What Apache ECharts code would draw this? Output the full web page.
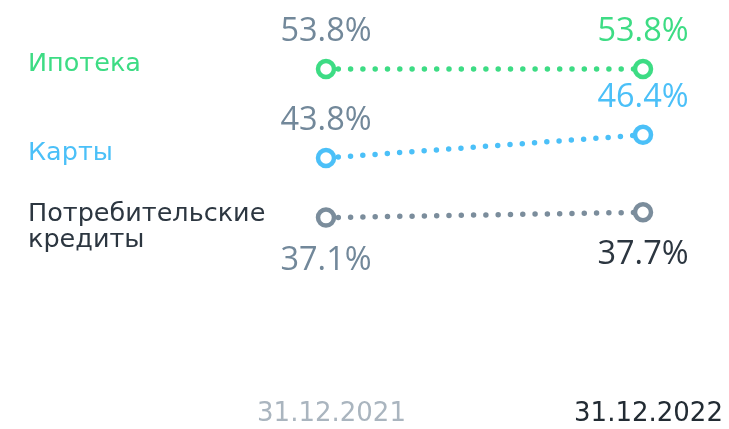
<!DOCTYPE html>
<html>
<head>
<meta charset="utf-8">
<script src="https://cdn.jsdelivr.net/npm/echarts@6/dist/echarts.min.js"></script>
<style>
    html, body { margin: 0; padding: 0; background: #ffffff; }
    #chart { width: 729px; height: 429px; }
</style>
</head>
<body>
<div id="chart"></div>
<script>
// данные
const dates = ['31.12.2021', '31.12.2022'];
const seriesNames = ['Ипотека', 'Карты', 'Потребительские\nкредиты'];
const mortgage = [53.8, 53.8];
const cards = [43.8, 46.4];
const consumer = [37.1, 37.7];

const lineColors = ['#3ddc84', '#4bc0f8', '#7b8d9c'];
const lastLabelColors = ['#3ddc84', '#4bc0f8', '#2c3640'];
const firstLabelColor = '#72889a';
const nameY = [64, 153, 227];
const labelPos = ['top', 'top', 'bottom'];

const chart = echarts.init(document.getElementById('chart'));

// подпись значения: 2021 серым, 2022 цветом серии
const makeSeries = (values, idx) => ({
    name: seriesNames[idx],
    type: 'line',
    data: values,
    symbol: 'circle',
    symbolSize: 16,
    itemStyle: { color: '#ffffff', borderColor: lineColors[idx], borderWidth: 4.5 },
    lineStyle: { color: lineColors[idx], width: 5.5, type: [0, 12.3], cap: 'round' },
    label: {
        show: true,
        position: labelPos[idx],
        distance: labelPos[idx] === 'top' ? 10 : 16,
        formatter: p => (p.dataIndex === 0 ? '{a|' : '{b|') + p.value.toFixed(1) + '%}',
        rich: {
            a: { fontSize: 32.5, fontFamily: 'Open Sans', color: firstLabelColor },
            b: { fontSize: 32.5, fontFamily: 'Open Sans', color: lastLabelColors[idx] }
        }
    },
    emphasis: { disabled: true },
    silent: true,
    animation: false
});

const option = {
    backgroundColor: '#ffffff',
    animation: false,
    grid: { left: 326, right: 86, top: 13.8, bottom: 23.6 },
    xAxis: {
        type: 'category',
        data: dates,
        boundaryGap: false,
        axisLine: { show: false },
        axisTick: { show: false },
        splitLine: { show: false },
        axisLabel: {
            margin: -4,
            padding: [0, 0, 0, 11],
            fontSize: 26,
            fontFamily: 'DejaVu Sans',
            color: (v, i) => i === 0 ? '#aab5bf' : '#222b33'
        }
    },
    yAxis: {
        type: 'value',
        min: 16,
        max: 60,
        show: false,
        splitLine: { show: false }
    },
    graphic: seriesNames.map((n, i) => ({
        type: 'text',
        x: 28,
        y: nameY[i],
        style: {
            text: n,
            fill: i === 2 ? '#2c3640' : lineColors[i],
            fontSize: 25.5,
            fontFamily: 'DejaVu Sans',
            lineHeight: 26,
            verticalAlign: 'middle',
            align: 'left'
        }
    })),
    series: [makeSeries(mortgage, 0), makeSeries(cards, 1), makeSeries(consumer, 2)]
};

chart.setOption(option);
</script>
</body>
</html>
